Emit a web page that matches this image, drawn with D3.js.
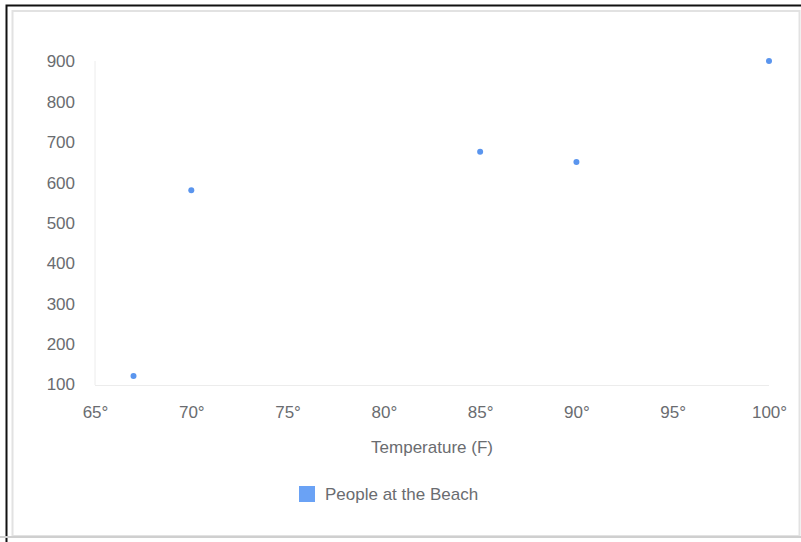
<!DOCTYPE html>
<html>
<head>
<meta charset="utf-8">
<script src="https://cdn.jsdelivr.net/npm/d3@7"></script>
<style>
  html, body { margin: 0; padding: 0; background: #fff; }
  svg { display: block; }
</style>
</head>
<body>
<svg id="chart" width="801" height="542"></svg>
<script>
// Beach attendance by temperature
const temperatures = [67, 70, 85, 90, 100];
const people = [120, 580, 675, 650, 900];
const xTicks = [65, 70, 75, 80, 85, 90, 95, 100];
const yTicks = [100, 200, 300, 400, 500, 600, 700, 800, 900];
const seriesName = "People at the Beach";
const xTitle = "Temperature (F)";

const svg = d3.select("#chart");
const font = "'Liberation Sans', Arial, Helvetica, sans-serif";
const fontSize = 17;
const textColor = "#6a6c70";
const pointColor = "#5a95ee";

// outer frame
svg.append("rect").attr("x", 6.5).attr("y", 5.5).attr("width", 800).attr("height", 540)
  .attr("fill", "none").attr("stroke", "#111").attr("stroke-width", 2);
svg.append("rect").attr("x", 12.5).attr("y", 11).attr("width", 787).attr("height", 525)
  .attr("fill", "#fff").attr("stroke", "#e2e2e2").attr("stroke-width", 2);
svg.append("line").attr("x1", 0).attr("x2", 801).attr("y1", 537).attr("y2", 537)
  .attr("stroke", "#cfcfcf").attr("stroke-width", 2);

const x = d3.scaleLinear().domain([65, 100]).range([95, 769]);
const y = d3.scaleLinear().domain([100, 900]).range([384, 61]);

// axis lines
svg.append("line").attr("x1", 95).attr("x2", 95).attr("y1", y(900)).attr("y2", y(100) + 1)
  .attr("stroke", "#ececec").attr("stroke-width", 1);
svg.append("line").attr("x1", 95).attr("x2", 769).attr("y1", y(100) + 1.5).attr("y2", y(100) + 1.5)
  .attr("stroke", "#ececec").attr("stroke-width", 1);

// y axis labels
const yAxis = d3.axisLeft(y).tickValues(yTicks).tickSize(0).tickPadding(0).tickFormat(d3.format("d"));
const gy = svg.append("g").attr("transform", "translate(75,0)").call(yAxis);
gy.select(".domain").remove();
gy.selectAll("text").attr("font-family", font).attr("font-size", fontSize)
  .attr("fill", textColor).attr("dy", "0.35em");

// x axis labels
const xAxis = d3.axisBottom(x).tickValues(xTicks).tickSize(0).tickPadding(0).tickFormat(d => d + "°");
const gx = svg.append("g").attr("transform", "translate(0,412)").call(xAxis);
gx.select(".domain").remove();
gx.selectAll("text").attr("font-family", font).attr("font-size", fontSize)
  .attr("fill", textColor).attr("dy", "0.35em");

// axis title
svg.append("text").attr("x", (x(65) + x(100)) / 2).attr("y", 447).attr("dy", "0.35em")
  .attr("text-anchor", "middle").attr("font-family", font).attr("font-size", fontSize)
  .attr("fill", textColor).text(xTitle);

// points
svg.append("g").selectAll("circle").data(temperatures).join("circle")
  .attr("cx", d => x(d)).attr("cy", (d, i) => y(people[i])).attr("r", 3)
  .attr("fill", pointColor);

// legend
svg.append("rect").attr("x", 299).attr("y", 486).attr("width", 16).attr("height", 16)
  .attr("fill", "#6aa2f5");
svg.append("text").attr("x", 325).attr("y", 494).attr("dy", "0.35em")
  .attr("font-family", font).attr("font-size", fontSize).attr("fill", textColor).text(seriesName);
</script>
</body>
</html>
